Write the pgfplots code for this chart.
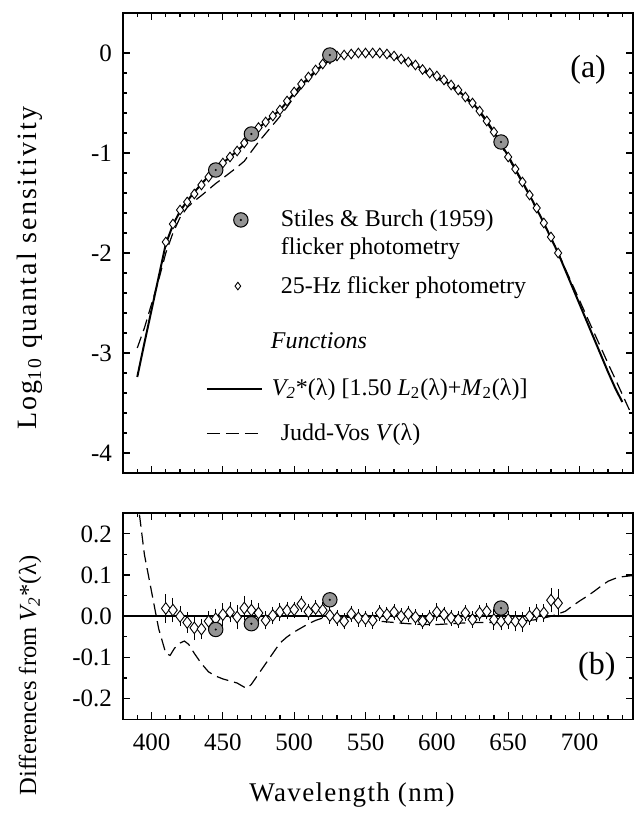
\documentclass[border=0pt]{standalone}
\usepackage{fontspec}
\setmainfont{Liberation Serif}
\usepackage{pgfplots}
\usepackage{pgfplotstable}
\pgfplotsset{compat=1.18}

\pgfdeclareplotmark{stiles}{%
  \pgfpathcircle{\pgfpointorigin}{\pgfplotmarksize}%
  \pgfusepathqfillstroke
  \begin{pgfscope}\pgfsetfillcolor{black}%
  \pgfpathcircle{\pgfpointorigin}{0.6bp}\pgfusepathqfill
  \end{pgfscope}}

\pgfplotsset{
  markleg/.style={legend image code/.code={\draw[##1] plot coordinates {(#1,0bp)};}},
  stlleg/.style={legend image code/.code={\path[draw=none, fill=none] (13bp,-3.6bp) rectangle (21bp,3.6bp);
      \draw[##1, overlay] plot coordinates {(17bp,#1)};}},
  lineleg/.style={legend image code/.code={\draw[##1] (0bp,#1) -- (27.5bp,#1);}},
  lineleg/.default=0bp,
}

% V2* function (top)
\pgfplotstableread{
lam v
390 -3.24
395 -2.90
400 -2.57
405 -2.24
410 -1.91
415 -1.72
420 -1.58
425 -1.48
430 -1.39
435 -1.31
440 -1.23
445 -1.16
450 -1.10
455 -1.04
460 -0.98
465 -0.91
470 -0.82
475 -0.75
480 -0.69
485 -0.63
490 -0.57
495 -0.49
500 -0.40
505 -0.32
510 -0.25
515 -0.18
520 -0.12
525 -0.07
530 -0.04
535 -0.02
540 -0.01
545 0.00
550 0.00
555 0.00
560 -0.005
565 -0.015
570 -0.03
575 -0.055
580 -0.085
585 -0.12
590 -0.16
595 -0.20
600 -0.235
605 -0.275
610 -0.32
615 -0.375
620 -0.44
625 -0.50
630 -0.58
635 -0.68
640 -0.79
645 -0.91
650 -1.03
655 -1.16
660 -1.29
665 -1.42
670 -1.56
675 -1.70
680 -1.85
685 -2.00
690 -2.17
695 -2.34
700 -2.51
705 -2.68
710 -2.85
715 -3.02
720 -3.19
725 -3.35
730 -3.49
}\vtwo

% Judd-Vos V(lambda) (top)
\pgfplotstableread{
lam v
390 -2.95
395 -2.75
400 -2.51
405 -2.27
410 -2.00
415 -1.80
420 -1.645
425 -1.545
430 -1.48
435 -1.425
440 -1.365
445 -1.305
450 -1.252
455 -1.197
460 -1.142
465 -1.082
470 -0.985
475 -0.89
480 -0.805
485 -0.72
490 -0.635
495 -0.54
500 -0.438
505 -0.348
510 -0.268
515 -0.19
520 -0.124
525 -0.07
530 -0.04
535 -0.022
540 -0.013
545 -0.005
550 -0.008
555 -0.01
560 -0.017
565 -0.028
570 -0.045
575 -0.071
580 -0.103
585 -0.139
590 -0.18
595 -0.22
600 -0.255
605 -0.294
610 -0.338
615 -0.392
620 -0.456
625 -0.515
630 -0.595
635 -0.695
640 -0.805
645 -0.925
650 -1.045
655 -1.174
660 -1.302
665 -1.430
670 -1.568
675 -1.704
680 -1.85
685 -1.994
690 -2.158
695 -2.315
700 -2.473
705 -2.632
710 -2.79
715 -2.947
720 -3.105
725 -3.258
730 -3.414
735 -3.57
}\juddvos

% 25-Hz flicker photometry (top)
\pgfplotstableread{
lam v
410 -1.89
415 -1.71
420 -1.57
425 -1.49
430 -1.41
435 -1.32
440 -1.24
445 -1.17
450 -1.10
455 -1.04
460 -0.98
465 -0.90
470 -0.81
475 -0.745
480 -0.69
485 -0.63
490 -0.57
495 -0.48
500 -0.39
505 -0.31
510 -0.24
515 -0.17
520 -0.11
525 -0.06
530 -0.03
535 -0.02
540 -0.01
545 0.00
550 0.00
555 0.00
560 0.00
565 -0.01
570 -0.03
575 -0.06
580 -0.09
585 -0.12
590 -0.165
595 -0.20
600 -0.23
605 -0.27
610 -0.32
615 -0.37
620 -0.44
625 -0.50
630 -0.58
635 -0.68
640 -0.79
645 -0.91
650 -1.04
655 -1.16
660 -1.29
665 -1.42
670 -1.55
675 -1.70
680 -1.84
685 -2.00
}\flicker

% Stiles & Burch (1959) (top)
\pgfplotstableread{
lam v
445 -1.17
470 -0.81
525 -0.02
645 -0.89
}\stiles

% differences: 25-Hz data (bottom)
\pgfplotstableread{
lam d e
410 0.019 0.025
415 0.015 0.020
420 0.000 0.015
425 -0.015 0.015
430 -0.028 0.020
435 -0.031 0.015
440 -0.012 0.015
445 -0.006 0.015
450 0.004 0.018
455 0.010 0.015
460 -0.002 0.020
465 0.020 0.020
470 0.015 0.015
475 0.008 0.015
480 -0.010 0.012
485 0.002 0.012
490 0.011 0.012
495 0.014 0.012
500 0.016 0.010
505 0.030 0.010
510 0.011 0.010
515 0.019 0.010
520 0.015 0.010
525 0.002 0.010
530 -0.004 0.010
535 -0.012 0.010
540 0.006 0.010
545 -0.004 0.012
550 -0.006 0.010
555 -0.010 0.010
560 0.008 0.010
565 0.004 0.010
570 0.010 0.010
575 0.000 0.010
580 0.006 0.010
585 -0.002 0.010
590 -0.012 0.010
595 -0.004 0.010
600 0.010 0.012
605 0.004 0.010
610 -0.004 0.010
615 -0.008 0.010
620 0.008 0.010
625 -0.008 0.010
630 0.008 0.010
635 0.012 0.010
640 -0.008 0.015
645 -0.012 0.012
650 -0.008 0.012
655 -0.012 0.015
660 -0.014 0.015
665 0.000 0.012
670 0.008 0.012
675 0.008 0.012
680 0.039 0.020
685 0.032 0.025
}\flickerdiff

% differences: Stiles & Burch (bottom)
\pgfplotstableread{
lam d
445 -0.032
470 -0.018
525 0.040
645 0.020
}\stilesdiff

% differences: Judd-Vos minus V2* (bottom)
\pgfplotstableread{
lam d
390 0.29
395 0.15
400 0.06
405 -0.03
410 -0.09
413 -0.095
416 -0.078
420 -0.065
423 -0.06
426 -0.068
430 -0.09
435 -0.115
440 -0.135
445 -0.145
450 -0.152
455 -0.157
460 -0.162
465 -0.172
467 -0.175
470 -0.165
475 -0.14
480 -0.115
485 -0.09
490 -0.065
495 -0.05
500 -0.038
505 -0.028
510 -0.018
515 -0.01
520 -0.004
525 0.0
530 0.0
540 -0.003
550 -0.008
560 -0.012
570 -0.015
580 -0.018
590 -0.02
600 -0.02
610 -0.018
620 -0.016
630 -0.015
640 -0.015
650 -0.015
660 -0.012
670 -0.008
680 0.0
685 0.006
690 0.012
695 0.025
700 0.037
705 0.048
710 0.06
715 0.073
720 0.085
725 0.092
730 0.096
737.5 0.099
}\jvdiff

% V2* reference line (bottom)
\pgfplotstableread{
lam d
380 0
737.5 0
}\zeroline

\begin{document}
\begin{tikzpicture}
\useasboundingbox (0,0) rectangle (317bp,407bp);
\pgfplotsset{
  panel/.style={
    scale only axis, width=255bp, xmin=380, xmax=737.5,
    axis line style={line width=0.8bp},
    every tick/.style={line width=0.6bp, black},
    major tick length=3.5bp, minor tick length=2bp,
    xtick={400,450,...,700}, minor xtick={380,390,...,730},
    tick align=inside,
    /pgf/number format/assume math mode=true,
    tick label style={font=\fontsize{12.5bp}{15bp}\selectfont},
    label style={font=\fontsize{13.5bp}{16bp}\selectfont},
    yticklabel style={xshift=-2bp},
  },
  jv/.style={black, line width=0.6bp, dash pattern=on 6bp off 3bp},
  v2/.style={black, line width=1bp},
  diam/.style={only marks, mark=diamond*, mark size=2.4bp,
    mark options={fill=white, draw=black, line width=0.45bp}},
  stl/.style={only marks, mark=stiles, mark size=3.6bp,
    mark options={fill=black!42, draw=black, line width=0.5bp}},
}
% ---------- panel (a)
\begin{axis}[panel,
  at={(61.5bp,170.5bp)}, anchor=south west, height=230bp,
  ymin=-4.2, ymax=0.4, ytick={-4,-3,-2,-1,0}, minor y tick num=4,
  xticklabels={},
  ylabel={Log\textsubscript{10} quantal sensitivity},
  ylabel style={at={(axis description cs:-0.182,0.446)}, anchor=center,
    font=\fontsize{14bp}{16bp}\selectfont\addfontfeatures{LetterSpace=8}},
  legend cell align=left,
  legend style={draw=none, fill=none, at={(axis description cs:0.15,0.591)},
    anchor=north west, row sep=5.5bp, column sep=7bp, cells={align=left},
    font=\fontsize{12bp}{14bp}\selectfont},
]
\addplot[jv, forget plot] table[x=lam, y=v] {\juddvos};
\addplot[v2, forget plot] table[x=lam, y=v] {\vtwo};
\addplot[diam, forget plot] table[x=lam, y=v] {\flicker};
\addplot[stl, forget plot] table[x=lam, y=v] {\stiles};

\addlegendimage{stl, stlleg=6.7bp}
\addlegendentry{Stiles \& Burch (1959)\\flicker photometry}
\addlegendimage{only marks, mark=diamond*, mark size=1.9bp, mark options={fill=white, draw=black, line width=0.45bp}, markleg=15.5bp}
\addlegendentry{25-Hz flicker photometry}
\addlegendimage{empty legend}
\addlegendentry{\hspace*{-5bp}\rule{0pt}{16.8bp}\textit{Functions}}
\addlegendimage{v2, lineleg=-2.5bp}
\addlegendentry{\hspace*{-4.5bp}\rule{0pt}{12.3bp}\textit{V\textsubscript{2}}*(λ) [1.50 \textit{L}\textsubscript{2}(λ)+\textit{M}\textsubscript{2}(λ)]}
\addlegendimage{black, line width=0.6bp, dash pattern=on 6.5bp off 3bp, lineleg=-1.75bp}
\addlegendentry{\rule{0pt}{11.8bp}Judd-Vos \textit{V}(λ)}

\node[font=\fontsize{16bp}{18bp}\selectfont] at (axis description cs:0.912,0.876) {(a)};
\end{axis}
% ---------- panel (b)
\begin{axis}[panel,
  at={(61.5bp,47.35bp)}, anchor=south west, height=103bp,
  ymin=-0.25, ymax=0.25, ytick={-0.2,-0.1,...,0.2}, minor y tick num=1,
  yticklabel style={/pgf/number format/.cd, fixed, fixed zerofill, precision=1},
  xlabel={Wavelength (nm)},
  xlabel style={at={(axis description cs:0.449,-0.367)}, anchor=center,
    font=\fontsize{13.5bp}{16bp}\selectfont\addfontfeatures{LetterSpace=5}},
  ylabel={Differences from \textit{V\textsubscript{2}}*(λ)},
  ylabel style={at={(axis description cs:-0.182,0.212)}, anchor=center,
    font=\fontsize{12.3bp}{15bp}\selectfont},
  xticklabel style={yshift=-4bp},
]
\addplot[v2] table[x=lam, y=d] {\zeroline};
\addplot[jv] table[x=lam, y=d] {\jvdiff};
\addplot[diam, mark size=2.9bp,
  error bars/.cd, y dir=both, y explicit,
  error bar style={line width=0.45bp, black},
  error mark options={line width=0.45bp, black, mark size=2bp}]
  table[x=lam, y=d, y error=e] {\flickerdiff};
\addplot[stl] table[x=lam, y=d] {\stilesdiff};
\node[font=\fontsize{16bp}{18bp}\selectfont] at (axis description cs:0.929,0.254) {(b)};
\end{axis}
\end{tikzpicture}
\end{document}
